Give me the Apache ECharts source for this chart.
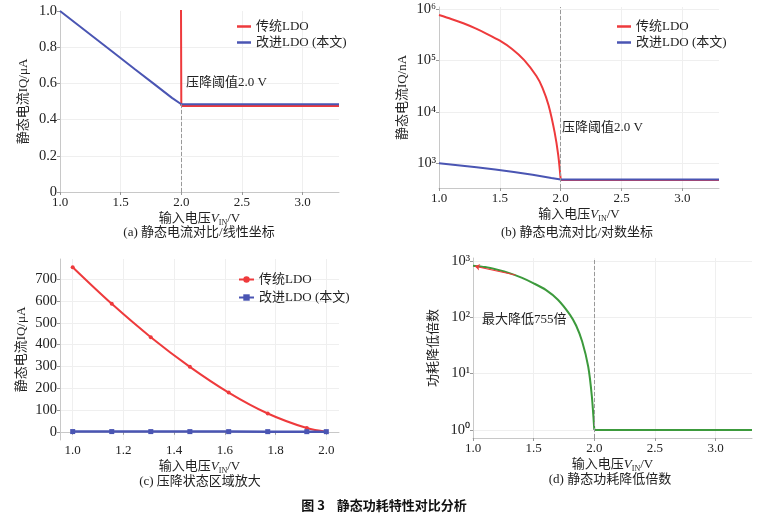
<!DOCTYPE html>
<html>
<head>
<meta charset="utf-8">
<script src="https://cdn.jsdelivr.net/npm/echarts@6/dist/echarts.min.js"></script>
<style>
  html, body { margin: 0; padding: 0; background: #fff; }
  #chart { width: 760px; height: 521px; }
</style>
</head>
<body>
<div id="chart"></div>
<script>
// (a)/(c) 压降区 数据, 单位 μA
var vInC = [1.0, 1.154, 1.308, 1.462, 1.615, 1.769, 1.923, 2.0];
var redUA = [755, 587, 434, 298, 180, 84, 17, 0.475];
var blueUA = [1.0, 0.92, 0.84, 0.76, 0.68, 0.60, 0.52, 0.485];
var vTail = [2.0, 3.3];
var redTailUA = [0.475, 0.475];
var blueTailUA = [0.485, 0.485];

// (b) 对数坐标, 单位 nA
var vInB = [1.0, 1.1, 1.2, 1.3, 1.4, 1.5, 1.6, 1.7, 1.8, 1.85, 1.9, 1.95, 1.98, 2.0];
var redNA = [766000, 644000, 530000, 421000, 324000, 243000, 168000, 102000, 50000, 29500, 13500, 4000, 1410, 475];
var blueNA = [1000, 920, 840, 760, 680, 600, 520, 485];
var redTailNA = [475, 475];
var blueTailNA = [485, 485];

// (d) 功耗降低倍数
var vInD = [1.0, 1.1, 1.2, 1.3, 1.4, 1.5, 1.6, 1.7, 1.8, 1.85, 1.9, 1.95, 1.98, 2.0];
var ratioD = [820, 773, 692, 603, 501, 398, 305, 204, 110, 71, 37, 13.2, 3.9, 1];
var ratioTail = [1, 1];

var dropoutV = 2.0;

var RED = '#ee3a3c', BLUE = '#4a55b3', GREEN = '#3c9a3c';
var FONT = "'Liberation Serif', 'Noto Sans CJK SC', serif";
var TXT = '#222';

function pairs(xs, ys) {
  return xs.map(function (x, i) { return [x, ys[i]]; });
}

var sup = { '0': '\u2070', '1': '\u00b9', '2': '\u00b2', '3': '\u00b3', '4': '\u2074', '5': '\u2075', '6': '\u2076' };
function logLabel(v) {
  return '10' + sup[String(Math.round(Math.log10(v)))];
}

var xName = '{a|输入电压}{i|V}{s|IN}{a|/V}';
var xNameStyle = {
  rich: {
    a: { fontFamily: FONT, fontSize: 13, color: TXT, lineHeight: 16 },
    i: { fontFamily: FONT, fontSize: 13, color: TXT, fontStyle: 'italic', lineHeight: 16 },
    s: { fontFamily: FONT, fontSize: 8, color: TXT, verticalAlign: 'bottom' }
  }
};

function baseAxis(extra) {
  var ax = {
    axisLine: { show: true, lineStyle: { color: '#c8c8c8', width: 1 } },
    axisTick: { show: true, length: 3, lineStyle: { color: '#999' } },
    axisLabel: { color: TXT, fontFamily: FONT, fontSize: 13, margin: 4, showMinLabel: false, showMaxLabel: false },
    splitLine: { show: true, showMinLine: false, showMaxLine: false, lineStyle: { color: '#efefef', width: 1 } },
    nameTextStyle: { color: TXT, fontFamily: FONT, fontSize: 13 }
  };
  for (var k in extra) {
    if (typeof extra[k] === 'object' && ax[k] && !Array.isArray(extra[k])) {
      ax[k] = Object.assign({}, ax[k], extra[k]);
    } else {
      ax[k] = extra[k];
    }
  }
  return ax;
}

function xAxisWide(grid) {
  return baseAxis({
    type: 'value', gridIndex: grid, min: 1.0, max: 3.3, interval: 0.5,
    name: xName, nameLocation: 'middle', nameGap: 19, nameTextStyle: xNameStyle,
    axisLabel: { showMinLabel: true, formatter: function (v) { return v.toFixed(1); } }
  });
}

function yLabel(extra) {
  return Object.assign({ fontSize: 14.5, margin: 3 }, extra);
}

var dashLine = {
  silent: true, symbol: 'none',
  lineStyle: { color: '#999', type: 'dashed', width: 1 },
  label: { show: false },
  data: [{ xAxis: dropoutV }]
};

function plain(name, xi, data, color, extra) {
  return Object.assign({
    name: name, type: 'line', xAxisIndex: xi, yAxisIndex: xi,
    symbol: 'none', clip: true, data: data,
    lineStyle: { color: color, width: 2 }, itemStyle: { color: color }
  }, extra || {});
}

var legendText = { color: TXT, fontFamily: FONT, fontSize: 13 };
var lineLegendData = [
  { name: '传统LDO', icon: 'rect' },
  { name: '改进LDO (本文)', icon: 'rect' }
];

function note(x, y, text, extra) {
  return { type: 'text', x: x, y: y, z: 100,
    style: Object.assign({ text: text, font: '13px ' + FONT, fill: TXT, verticalAlign: 'middle' }, extra || {}) };
}

var option = {
  animation: false,
  backgroundColor: '#fff',
  grid: [
    { left: 60, top: 11, width: 279, height: 181 },
    { left: 439, top: 7, width: 280, height: 181 },
    { left: 60, top: 259, width: 279, height: 181 },
    { left: 473, top: 258, width: 279, height: 180 }
  ],
  legend: [
    { left: 232, top: 15, orient: 'vertical', itemWidth: 14, itemHeight: 2.5, itemGap: 3,
      data: lineLegendData, textStyle: legendText },
    { left: 612, top: 15, orient: 'vertical', itemWidth: 14, itemHeight: 2.5, itemGap: 3,
      data: lineLegendData, textStyle: legendText },
    { left: 233, top: 268, orient: 'vertical', itemWidth: 15, itemHeight: 8, itemGap: 5,
      data: ['传统LDO ', '改进LDO (本文) '], textStyle: legendText,
      formatter: function (n) { return n.trim(); } }
  ],
  xAxis: [
    xAxisWide(0),
    xAxisWide(1),
    baseAxis({
      type: 'value', gridIndex: 2, min: 0.95, max: 2.05, splitNumber: 5,
      name: xName, nameLocation: 'middle', nameGap: 19, nameTextStyle: xNameStyle,
      axisLabel: { formatter: function (v) { return v.toFixed(1); } }
    }),
    xAxisWide(3)
  ],
  yAxis: [
    baseAxis({
      type: 'value', gridIndex: 0, min: 0, max: 1.0, interval: 0.2,
      name: '静态电流IQ/μA', nameLocation: 'middle', nameGap: 30, nameRotate: 90,
      axisLabel: yLabel({ showMinLabel: true, showMaxLabel: true, formatter: function (v) { return v === 0 ? '0' : v.toFixed(1); } })
    }),
    baseAxis({
      type: 'log', logBase: 10, gridIndex: 1, min: 331, max: 1100000,
      name: '静态电流IQ/nA', nameLocation: 'middle', nameGap: 30, nameRotate: 90,
      axisLabel: yLabel({ formatter: logLabel })
    }),
    baseAxis({
      type: 'value', gridIndex: 2, min: -37.75, max: 792.75, splitNumber: 8,
      name: '静态电流IQ/μA', nameLocation: 'middle', nameGap: 32, nameRotate: 90,
      axisLabel: yLabel({})
    }),
    baseAxis({
      type: 'log', logBase: 10, gridIndex: 3, min: 0.718, max: 1120,
      name: '功耗降低倍数', nameLocation: 'middle', nameGap: 33, nameRotate: 90,
      axisLabel: yLabel({ formatter: logLabel })
    })
  ],
  series: [
    // (a) 线性坐标
    plain('传统LDO', 0, pairs(vInC, redUA), RED),
    plain('传统LDO', 0, pairs(vTail, redTailUA), RED),
    plain('改进LDO (本文)', 0, pairs(vInC, blueUA).concat(pairs(vTail, blueTailUA)), BLUE, {
      markLine: Object.assign({}, dashLine, { data: [[{ coord: [dropoutV, 0] }, { coord: [dropoutV, blueTailUA[0]] }]] })
    }),
    // (b) 对数坐标
    plain('传统LDO', 1, pairs(vInB, redNA), RED, { smooth: 0.25, markLine: dashLine }),
    plain('传统LDO', 1, pairs(vTail, redTailNA), RED),
    plain('改进LDO (本文)', 1, pairs(vInC, blueNA).concat(pairs(vTail, blueTailNA)), BLUE),
    // (c) 压降区放大
    { name: '传统LDO ', type: 'line', xAxisIndex: 2, yAxisIndex: 2, smooth: 0.35,
      symbol: 'circle', symbolSize: 4, data: pairs(vInC, redUA),
      lineStyle: { color: RED, width: 2 }, itemStyle: { color: RED } },
    { name: '改进LDO (本文) ', type: 'line', xAxisIndex: 2, yAxisIndex: 2,
      symbol: 'rect', symbolSize: 5, data: pairs(vInC, blueUA),
      lineStyle: { color: BLUE, width: 2.5 }, itemStyle: { color: BLUE } },
    // (d) 降低倍数
    plain('降低倍数', 3, pairs(vInD, ratioD), GREEN, { smooth: 0.25, markLine: dashLine }),
    plain('降低倍数', 3, pairs(vTail, ratioTail), GREEN),
    { name: '箭头', type: 'line', xAxisIndex: 3, yAxisIndex: 3, symbol: 'none', data: [],
      markLine: {
        silent: true, symbol: ['none', 'arrow'], symbolSize: 5,
        lineStyle: { color: RED, type: 'solid', width: 1.2 }, label: { show: false },
        data: [[{ coord: [1.35, 560] }, { coord: [1.015, 800] }]]
      } }
  ],
  graphic: [
    note(186, 83, '压降阈值2.0 V'),
    note(562, 128, '压降阈值2.0 V'),
    note(482, 320, '最大降低755倍'),
    note(199, 233, '(a) 静态电流对比/线性坐标', { align: 'center' }),
    note(577, 233, '(b) 静态电流对比/对数坐标', { align: 'center' }),
    note(200, 482, '(c) 压降状态区域放大', { align: 'center' }),
    note(610, 480, '(d) 静态功耗降低倍数', { align: 'center' }),
    note(384, 505, '图 3    静态功耗特性对比分析', { align: 'center', font: 'bold 13px "Noto Sans CJK SC", sans-serif', fill: '#111' })
  ]
};

var chart = echarts.init(document.getElementById('chart'));
chart.setOption(option);
</script>
</body>
</html>
